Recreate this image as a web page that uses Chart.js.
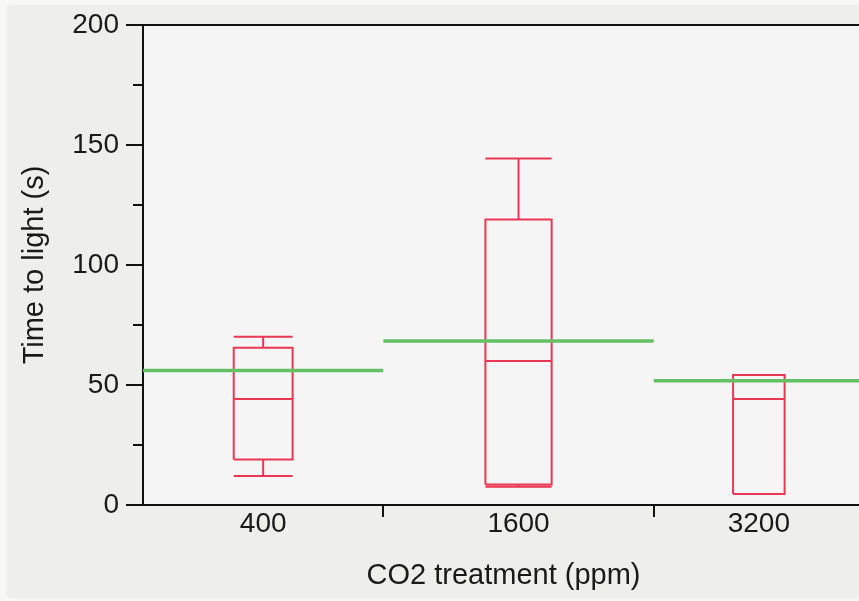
<!DOCTYPE html>
<html><head><meta charset="utf-8">
<script src="https://cdn.jsdelivr.net/npm/chart.js@4"></script>
<style>
html,body{margin:0;padding:0;overflow:hidden;background:#f8f8f6;width:859px;height:601px;}
#panel{position:absolute;left:8px;top:6px;width:860px;height:591px;background:#eeeeea;box-shadow:0 0 3px rgba(0,0,0,0.10);}
#c{position:absolute;left:0;top:0;}
</style></head><body>
<div id="panel"></div>
<canvas id="c" width="866" height="601"></canvas>
<script>
// ---- data ----
const categories = ['400', '1600', '3200'];
const groupN = [8, 9, 7];            // group sizes (set category widths)
const whiskerLow = [12.1, 7.6, 4.6];
const q1 = [19.0, 8.5, 4.6];
const median = [44.2, 60.0, 44.2];
const q3 = [65.5, 119.0, 54.2];
const whiskerHigh = [70.1, 144.4, 54.2];
const means = [56.0, 68.3, 51.8];
const yMin = 0, yMax = 200, yStep = 25, yLabelStep = 50;

// ---- derived geometry in data units ----
const starts = [], ends = [], centers = [];
let acc = 0;
groupN.forEach(n => { starts.push(acc); centers.push(acc + n / 2); acc += n; ends.push(acc); });
const total = acc;
const HALF_BOX = 0.1225; // box half-width per unit of group size

const redPts = [];
const gap = (x) => redPts.push({x: x, y: null});
categories.forEach((c, i) => {
  const hw = HALF_BOX * groupN[i], cx = centers[i], l = cx - hw, r = cx + hw;
  redPts.push({x:l,y:q1[i]},{x:r,y:q1[i]},{x:r,y:q3[i]},{x:l,y:q3[i]},{x:l,y:q1[i]}); gap(cx);
  redPts.push({x:l,y:median[i]},{x:r,y:median[i]}); gap(cx);
  redPts.push({x:cx,y:q3[i]},{x:cx,y:whiskerHigh[i]}); gap(cx);
  redPts.push({x:l,y:whiskerHigh[i]},{x:r,y:whiskerHigh[i]}); gap(cx);
  redPts.push({x:cx,y:q1[i]},{x:cx,y:whiskerLow[i]}); gap(cx);
  redPts.push({x:l,y:whiskerLow[i]},{x:r,y:whiskerLow[i]}); gap(cx);
});
const greenPts = [];
categories.forEach((c, i) => {
  greenPts.push({x:starts[i], y:means[i]}, {x:ends[i], y:means[i]}, {x:ends[i], y:null});
});

const labelAt = {};
centers.forEach((v, i) => labelAt[v] = categories[i]);
const boundaries = starts.slice(1);
const isBoundary = v => boundaries.includes(v);

const FONT = '"Liberation Sans", Arial, Helvetica, sans-serif';

const bgPlugin = {
  id: 'bg',
  beforeDraw(chart) {
    const {ctx, chartArea: a} = chart;
    ctx.save();
    ctx.fillStyle = '#f5f5f5';
    ctx.fillRect(a.left, a.top, a.right - a.left + 10, a.bottom - a.top);
    ctx.strokeStyle = '#111';
    ctx.lineWidth = 2;
    ctx.beginPath();
    ctx.moveTo(a.left, a.top);
    ctx.lineTo(a.right + 10, a.top);
    ctx.stroke();
    ctx.restore();
  }
};

new Chart(document.getElementById('c'), {
  type: 'scatter',
  data: {
    datasets: [
      { data: greenPts, showLine: true, borderColor: 'rgb(100,192,100)', borderWidth: 3.5,
        pointRadius: 0, pointHoverRadius: 0, spanGaps: false, borderCapStyle: 'butt' },
      { data: redPts, showLine: true, borderColor: 'rgb(234,56,84)', borderWidth: 2,
        pointRadius: 0, pointHoverRadius: 0, spanGaps: false, borderJoinStyle: 'miter', borderCapStyle: 'butt' }
    ]
  },
  options: {
    responsive: false,
    animation: false,
    devicePixelRatio: 1,
    layout: { padding: { top: 25, right: 2, left: 0, bottom: 0 } },
    plugins: { legend: { display: false }, tooltip: { enabled: false } },
    scales: {
      x: {
        type: 'linear', min: 0, max: total,
        afterBuildTicks: s => { s.ticks = centers.concat(boundaries).sort((a,b)=>a-b).map(v => ({value: v})); },
        afterFit: s => { s.height = 96; },
        ticks: {
          callback: v => labelAt[v] !== undefined ? labelAt[v] : '',
          color: '#1a1a1a', font: { family: FONT, size: 28 }, padding: -10, maxRotation: 0, autoSkip: false
        },
        grid: {
          drawOnChartArea: false, drawTicks: true, tickLength: 12,
          color: ctx => (ctx.tick && isBoundary(ctx.tick.value)) ? '#111' : 'rgba(0,0,0,0)',
          tickColor: ctx => (ctx.tick && isBoundary(ctx.tick.value)) ? '#111' : 'rgba(0,0,0,0)',
          tickWidth: 2, lineWidth: 2
        },
        border: { display: true, color: '#111', width: 2 },
        title: { display: true, text: 'CO2 treatment (ppm)', color: '#1a1a1a',
                 font: { family: FONT, size: 29 }, padding: { top: 0, bottom: 8 } }
      },
      y: {
        type: 'linear', min: yMin, max: yMax,
        afterFit: s => { s.width = 143; },
        ticks: {
          stepSize: yStep,
          callback: v => (v % yLabelStep === 0) ? String(v) : '',
          color: '#1a1a1a', font: { family: FONT, size: 28 }, padding: 7
        },
        grid: {
          drawOnChartArea: false, drawTicks: true, tickLength: 17,
          tickColor: '#111', tickWidth: 2, lineWidth: 2, color: '#111',
          tickBorderDash: ctx => (ctx.tick && ctx.tick.value % yLabelStep !== 0) ? [10, 7] : [],
          tickBorderDashOffset: ctx => (ctx.tick && ctx.tick.value % yLabelStep !== 0) ? 10 : 0
        },
        border: { display: true, color: '#111', width: 2 },
        title: { display: true, text: 'Time to light (s)', color: '#1a1a1a',
                 font: { family: FONT, size: 29 }, padding: { top: 18, bottom: 0 } }
      }
    }
  },
  plugins: [bgPlugin]
});
</script>
</body></html>
